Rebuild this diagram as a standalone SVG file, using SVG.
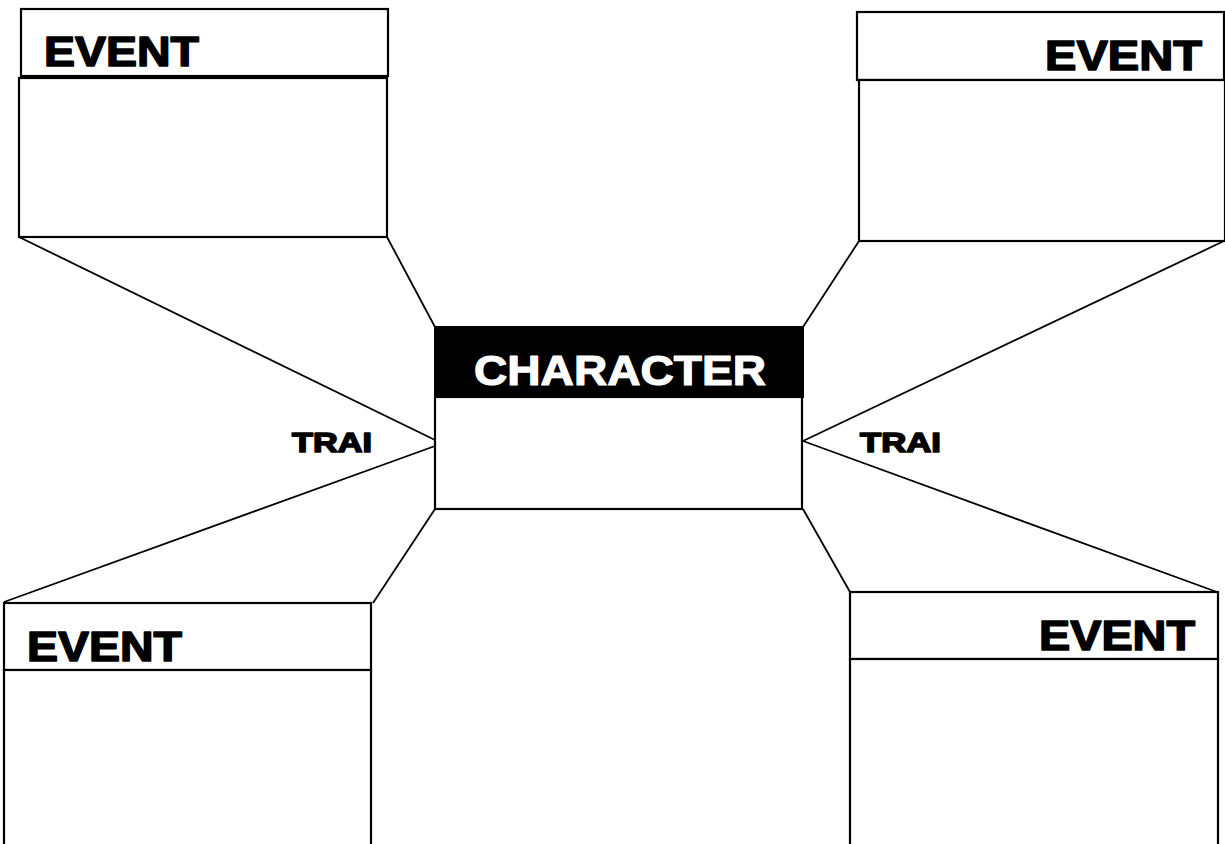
<svg xmlns="http://www.w3.org/2000/svg" width="1225" height="844" viewBox="0 0 1225 844">
<style>
.box{fill:#fff;stroke:#000;stroke-width:2.2}
.hdr{fill:#fff;stroke:#000;stroke-width:2.2}
.blk{fill:#000;stroke:#000;stroke-width:2}
.lbl{font-family:"Liberation Sans",Arial,sans-serif;font-weight:bold;fill:#000;stroke:#000;stroke-width:1.6;stroke-linejoin:round}
.wlbl{font-family:"Liberation Sans",Arial,sans-serif;font-weight:bold;fill:#fff;stroke:#fff;stroke-width:1.2;stroke-linejoin:round}
.con line{stroke:#000;stroke-width:1.8}
</style>
<rect width="1225" height="844" fill="#fff"/>
<g id="connectors" class="con">
<line x1="19" y1="237" x2="435" y2="440"/>
<line x1="387" y1="237" x2="435" y2="327"/>
<line x1="859" y1="241" x2="803" y2="327"/>
<line x1="1224" y1="241" x2="803" y2="441"/>
<line x1="435" y1="446" x2="4" y2="602"/>
<line x1="435" y1="509" x2="373" y2="603"/>
<line x1="803" y1="441" x2="1217" y2="592"/>
<line x1="803" y1="509" x2="850" y2="592"/>
</g>
<g id="event-top-left">
<rect class="hdr" x="21" y="9" width="367" height="67"/>
<rect class="box" x="19" y="78" width="368" height="159"/>
<text class="lbl" x="44" y="66" font-size="43" textLength="155" lengthAdjust="spacingAndGlyphs">EVENT</text>
</g>
<g id="event-top-right">
<rect class="hdr" x="857" y="12" width="367" height="68"/>
<rect class="box" x="859" y="80" width="366" height="161"/>
<text class="lbl" x="1045" y="70" font-size="43" textLength="157" lengthAdjust="spacingAndGlyphs">EVENT</text>
</g>
<g id="character">
<rect class="box" x="435" y="397" width="367" height="112"/>
<rect class="blk" x="435" y="327" width="368" height="70"/>
<text class="wlbl" x="474" y="385" font-size="43" textLength="292" lengthAdjust="spacingAndGlyphs">CHARACTER</text>
</g>
<g id="trait-left">
<text class="lbl" x="292" y="452" font-size="28" textLength="80" lengthAdjust="spacingAndGlyphs">TRAI</text>
</g>
<g id="trait-right">
<text class="lbl" x="860" y="452" font-size="28" textLength="81" lengthAdjust="spacingAndGlyphs">TRAI</text>
</g>
<g id="event-bottom-left">
<rect class="hdr" x="4" y="603" width="367" height="67"/>
<rect class="box" x="4" y="670" width="367" height="180"/>
<text class="lbl" x="27" y="661" font-size="43" textLength="155" lengthAdjust="spacingAndGlyphs">EVENT</text>
</g>
<g id="event-bottom-right">
<rect class="hdr" x="850" y="592" width="368" height="67"/>
<rect class="box" x="850" y="659" width="368" height="191"/>
<text class="lbl" x="1039" y="650" font-size="43" textLength="156" lengthAdjust="spacingAndGlyphs">EVENT</text>
</g>
</svg>
